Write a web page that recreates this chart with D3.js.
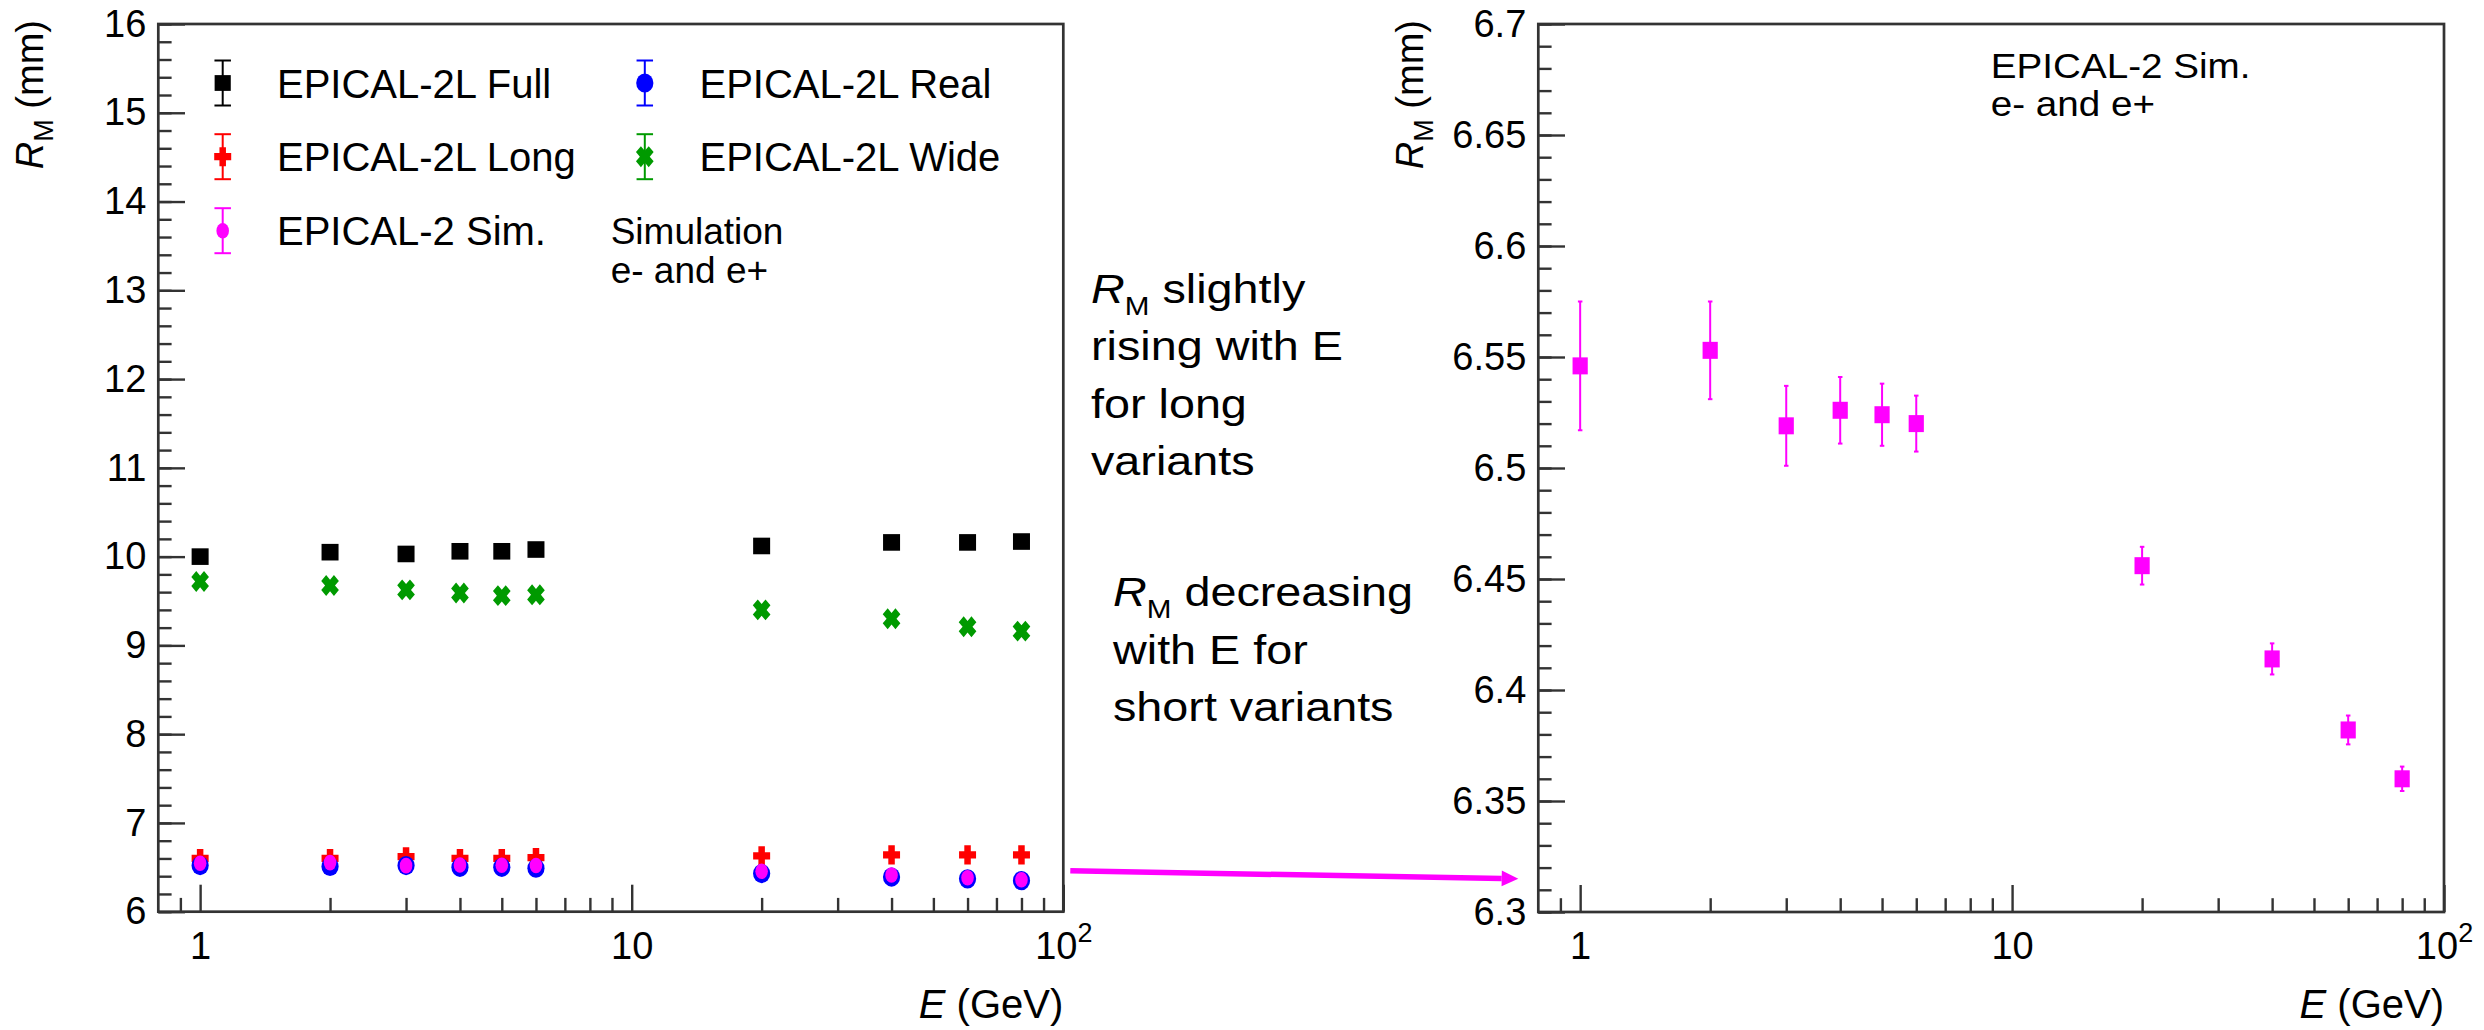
<!DOCTYPE html>
<html>
<head>
<meta charset="utf-8">
<script src="https://cdn.jsdelivr.net/npm/d3@7"></script>
<style>
  html, body { margin: 0; padding: 0; background: #fff; }
  svg text { font-family: "Liberation Sans", Arial, Helvetica, sans-serif; fill: #000; }
</style>
</head>
<body>
<svg id="chart" width="2484" height="1030"></svg>
<script>
// Beam energies (GeV) and Molière radius R_M (mm) for each calorimeter variant
const energies = [1, 2, 3, 4, 5, 6, 20, 40, 60, 80];
const rmFull = [10.00, 10.05, 10.03, 10.06, 10.06, 10.08, 10.12, 10.16, 10.16, 10.17];
const rmWide = [9.72, 9.675, 9.625, 9.59, 9.56, 9.57, 9.40, 9.30, 9.21, 9.16];
const rmLong = [6.60, 6.60, 6.62, 6.60, 6.60, 6.61, 6.63, 6.64, 6.64, 6.64];
const rmReal = [6.52, 6.51, 6.52, 6.50, 6.50, 6.49, 6.43, 6.39, 6.37, 6.35];
const rmSim = [6.546, 6.553, 6.519, 6.526, 6.524, 6.520, 6.456, 6.414, 6.382, 6.360];
const rmSimErr = [0.029, 0.022, 0.018, 0.015, 0.014, 0.0126, 0.0085, 0.007, 0.0065, 0.0055];

// Axis ticks
const xMajorTicks = [1, 10, 100];
const xMinorTicks = [0.9, 2, 3, 4, 5, 6, 7, 8, 9, 20, 30, 40, 50, 60, 70, 80, 90];
const leftYTicks = [6, 7, 8, 9, 10, 11, 12, 13, 14, 15, 16];
const rightYTicks = [6.3, 6.35, 6.4, 6.45, 6.5, 6.55, 6.6, 6.65, 6.7];

const legendEntries = [
  { label: "EPICAL-2L Full", color: "#000000", shape: "square" },
  { label: "EPICAL-2L Long", color: "#ff0000", shape: "plus" },
  { label: "EPICAL-2 Sim.", color: "#ff00ff", shape: "dot" },
  { label: "EPICAL-2L Real", color: "#0000ff", shape: "circle" },
  { label: "EPICAL-2L Wide", color: "#009a00", shape: "xcross" }
];

const svg = d3.select("#chart");
const AXIS = "#333333";

// Panel frames
const leftBox = { x0: 158.3, x1: 1063.3, y0: 24, y1: 911.7 };
const rightBox = { x0: 1538.3, x1: 2444, y0: 24, y1: 912 };

const xL = d3.scaleLog().domain([0.8, 100]).range([leftBox.x0, leftBox.x1]);
const yL = d3.scaleLinear().domain([6, 16]).range([leftBox.y1, leftBox.y0]);
const xR = d3.scaleLog().domain([0.8, 100]).range([rightBox.x0, rightBox.x1]);
const yR = d3.scaleLinear().domain([6.3, 6.7]).range([rightBox.y1, rightBox.y0]);

// Marker shapes
function plusPath(s, t) {
  const a = s / 2, b = t / 2;
  return `M${-b},${-a}H${b}V${-b}H${a}V${b}H${b}V${a}H${-b}V${b}H${-a}V${-b}H${-b}Z`;
}
function drawMarker(g, shape, color, cx, cy, scaleK) {
  const k = scaleK || 1;
  if (shape === "square") {
    g.append("rect").attr("x", cx - 8.5 * k).attr("y", cy - 8.3 * k)
      .attr("width", 17 * k).attr("height", 16.6 * k).attr("fill", color);
  } else if (shape === "rsquare") {
    g.append("rect").attr("x", cx - 7.6).attr("y", cy - 8.5)
      .attr("width", 15.2).attr("height", 17).attr("fill", color);
  } else if (shape === "plus") {
    g.append("path").attr("d", plusPath(17 * k, 6.5 * k))
      .attr("transform", `translate(${cx},${cy}) scale(1,1.12)`).attr("fill", color);
  } else if (shape === "xcross") {
    g.append("path").attr("d", plusPath(18 * k, 7 * k))
      .attr("transform", `translate(${cx},${cy}) scale(1,1.18) rotate(45)`).attr("fill", color);
  } else if (shape === "circle") {
    g.append("ellipse").attr("cx", cx).attr("cy", cy).attr("rx", 8.6 * k).attr("ry", 9.6 * k).attr("fill", color);
  } else if (shape === "dot") {
    g.append("ellipse").attr("cx", cx).attr("cy", cy).attr("rx", 6.3 * k).attr("ry", 7.8 * k).attr("fill", color);
  }
}

function errorBar(g, color, cx, yTop, yBot, capW, sw) {
  g.append("line").attr("x1", cx).attr("x2", cx).attr("y1", yTop).attr("y2", yBot)
    .attr("stroke", color).attr("stroke-width", sw);
  [yTop, yBot].forEach(yy => g.append("line")
    .attr("x1", cx - capW / 2).attr("x2", cx + capW / 2).attr("y1", yy).attr("y2", yy)
    .attr("stroke", color).attr("stroke-width", sw));
}

// Draws the frame, ticks and labels of one panel
function drawAxes(box, x, y, yMajor, yMinor, tickFmt) {
  const g = svg.append("g");
  // y axis: minor then major ticks, pointing into the frame
  g.append("g").attr("transform", `translate(${box.x0},0)`)
    .call(d3.axisLeft(y).tickValues(yMinor).tickSize(-13.3).tickFormat(""))
    .call(s => s.select(".domain").remove())
    .call(s => s.selectAll("line").attr("stroke", AXIS).attr("stroke-width", 2.4));
  g.append("g").attr("transform", `translate(${box.x0},0)`)
    .call(d3.axisLeft(y).tickValues(yMajor).tickSize(-26.7).tickPadding(12).tickFormat(tickFmt))
    .call(s => s.select(".domain").remove())
    .call(s => s.selectAll("line").attr("stroke", AXIS).attr("stroke-width", 2.4))
    .call(s => s.selectAll("text").attr("font-size", 38).attr("fill", "#000")
      .attr("font-family", '"Liberation Sans", Arial, sans-serif'));
  // x axis (log)
  g.append("g").attr("transform", `translate(0,${box.y1})`)
    .call(d3.axisBottom(x).tickValues(xMinorTicks).tickSize(-13.8).tickFormat(""))
    .call(s => s.select(".domain").remove())
    .call(s => s.selectAll("line").attr("stroke", AXIS).attr("stroke-width", 2.4));
  const xa = g.append("g").attr("transform", `translate(0,${box.y1})`)
    .call(d3.axisBottom(x).tickValues(xMajorTicks).tickSize(-27).tickPadding(20)
      .tickFormat(d => d === 100 ? "10" : String(d)))
    .call(s => s.select(".domain").remove())
    .call(s => s.selectAll("line").attr("stroke", AXIS).attr("stroke-width", 2.4))
    .call(s => s.selectAll("text").attr("font-size", 38).attr("fill", "#000")
      .attr("font-family", '"Liberation Sans", Arial, sans-serif'));
  xa.selectAll(".tick").filter(d => d === 100).select("text")
    .append("tspan").attr("dy", -17).attr("font-size", 27).text("2");
  // frame
  g.append("rect").attr("x", box.x0).attr("y", box.y0)
    .attr("width", box.x1 - box.x0).attr("height", box.y1 - box.y0)
    .attr("fill", "none").attr("stroke", AXIS).attr("stroke-width", 2.7);
  // axis titles
  const yt = g.append("text").attr("transform", `translate(${box.x0 - 115},20) rotate(-90)`)
    .attr("text-anchor", "end").attr("font-size", 38);
  yt.append("tspan").attr("font-style", "italic").text("R");
  yt.append("tspan").attr("font-size", 27).attr("dy", 10).text("M");
  yt.append("tspan").attr("dy", -10).text(" (mm)");
  const xt = g.append("text").attr("x", box.x1).attr("y", 1018)
    .attr("text-anchor", "end").attr("font-size", 40);
  xt.append("tspan").attr("font-style", "italic").text("E");
  xt.append("tspan").text(" (GeV)");
}

drawAxes(leftBox, xL, yL, leftYTicks, d3.range(60, 161, 2).map(v => v / 10), d3.format("d"));
drawAxes(rightBox, xR, yR, rightYTicks, d3.range(630, 671).map(v => v / 100), d => String(d));

// ---- Left panel: all variants ----
const gl = svg.append("g");
const leftSeries = [
  { values: rmFull, color: "#000000", shape: "square" },
  { values: rmWide, color: "#009a00", shape: "xcross" },
  { values: rmLong, color: "#ff0000", shape: "plus" },
  { values: rmReal, color: "#0000ff", shape: "circle" },
  { values: rmSim, color: "#ff00ff", shape: "dot", err: rmSimErr }
];
leftSeries.forEach(s => {
  energies.forEach((e, i) => {
    if (s.err) errorBar(gl, s.color, xL(e), yL(s.values[i] + s.err[i]), yL(s.values[i] - s.err[i]), 4, 1.6);
    drawMarker(gl, s.shape, s.color, xL(e), yL(s.values[i]));
  });
});

// Legend
const lg = svg.append("g");
const legendPos = [
  { mx: 222.7, tx: 277, y: 83 },
  { mx: 222.7, tx: 277, y: 156.7 },
  { mx: 222.7, tx: 277, y: 230.7 },
  { mx: 644.8, tx: 699.5, y: 83 },
  { mx: 644.8, tx: 699.5, y: 156.7 }
];
legendEntries.forEach((d, i) => {
  const p = legendPos[i];
  errorBar(lg, d.color, p.mx, p.y - 22.5, p.y + 22.5, 16.5, 2);
  drawMarker(lg, d.shape, d.color, p.mx, p.y, d.shape === "square" ? 0.95 : 1);
  lg.append("text").attr("x", p.tx).attr("y", p.y + 14.5).attr("font-size", 40).text(d.label);
});
lg.append("text").attr("x", 610.7).attr("y", 244).attr("font-size", 37).text("Simulation");
lg.append("text").attr("x", 610.7).attr("y", 283).attr("font-size", 37).text("e- and e+");

// ---- Right panel: EPICAL-2 simulation ----
const gr = svg.append("g");
energies.forEach((e, i) => {
  errorBar(gr, "#ff00ff", xR(e), yR(rmSim[i] + rmSimErr[i]), yR(rmSim[i] - rmSimErr[i]), 4.5, 2);
  drawMarker(gr, "rsquare", "#ff00ff", xR(e), yR(rmSim[i]));
});
["EPICAL-2 Sim.", "e- and e+"].forEach((t, i) => {
  gr.append("text").attr("transform", `translate(1990.8,${78 + i * 38}) scale(1.12,1)`)
    .attr("font-size", 34.5).text(t);
});

// ---- Annotations between the panels ----
function noteBlock(x, y0, lines) {
  const g = svg.append("g").attr("transform", `translate(${x},0)`);
  lines.forEach((ln, i) => {
    const t = g.append("text").attr("transform", `translate(0,${y0 + i * 57.5}) scale(1.14,1)`)
      .attr("font-size", 41);
    if (ln.rm) {
      t.append("tspan").attr("font-style", "italic").text("R");
      t.append("tspan").attr("font-size", 26).attr("dy", 12).text("M");
      t.append("tspan").attr("dy", -12).text(" " + ln.text);
    } else {
      t.text(ln.text);
    }
  });
}
noteBlock(1091, 302.6, [
  { rm: true, text: "slightly" },
  { text: "rising with E" },
  { text: "for long" },
  { text: "variants" }
]);
noteBlock(1113, 606, [
  { rm: true, text: "decreasing" },
  { text: "with E for" },
  { text: "short variants" }
]);

// Arrow from the short-variant points to the zoomed panel
const ax0 = leftBox.x1 + 7, ay0 = yL(6.46);
const ax1 = rightBox.x0 - 20, ay1 = yR(6.315);
const ah = 16.6;
const ang = Math.atan2(ay1 - ay0, ax1 - ax0);
svg.append("line")
  .attr("x1", ax0).attr("y1", ay0)
  .attr("x2", ax1 - ah * Math.cos(ang)).attr("y2", ay1 - ah * Math.sin(ang))
  .attr("stroke", "#ff00ff").attr("stroke-width", 5.5);
svg.append("path")
  .attr("d", `M0,0L${-ah},-7.8L${-ah},7.8Z`)
  .attr("transform", `translate(${ax1},${ay1}) rotate(${ang * 180 / Math.PI})`)
  .attr("fill", "#ff00ff");
</script>
</body>
</html>
